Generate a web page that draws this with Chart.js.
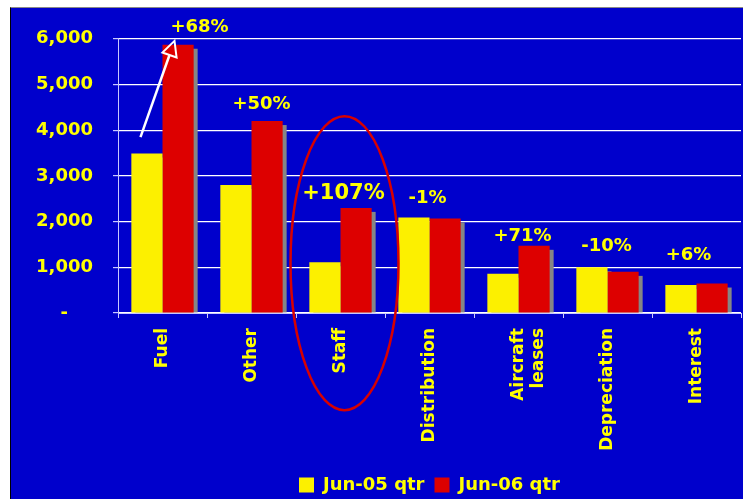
<!DOCTYPE html>
<html>
<head>
<meta charset="utf-8">
<title>Cost breakdown</title>
<script src="https://cdn.jsdelivr.net/npm/chart.js@4/dist/chart.umd.min.js"></script>
<style>
  html, body { margin: 0; padding: 0; background: #fff; overflow: hidden; }
  #panel { position: absolute; left: 10px; top: 7px; width: 732px; height: 496px;
           border-left: 1px solid #000; border-top: 1px solid #888; background: #0000cc; }
  canvas { display: block; }
</style>
</head>
<body>
<div id="panel"><canvas id="bar-chart" width="732" height="496"></canvas></div>
<script>
  // quarterly cost lines, $m
  const categories = ['Fuel', 'Other', 'Staff', 'Distribution', ['Aircraft', 'leases'], 'Depreciation', 'Interest'];
  const jun05 = [3490, 2800, 1110, 2090, 860, 1000, 610];
  const jun06 = [5870, 4200, 2300, 2070, 1470, 900, 645];
  const changes = ['+68%', '+50%', '+107%', '-1%', '+71%', '-10%', '+6%'];
  const tickLabels = ['-    ', '1,000', '2,000', '3,000', '4,000', '5,000', '6,000'];

  const yellow = '#ffff00';
  Chart.defaults.font.family = 'DejaVu Sans';
  Chart.defaults.font.weight = 'bold';

  // grey drop shadow behind every bar
  const barShadow = {
    id: 'barShadow',
    beforeDatasetsDraw(chart, args, opts) {
      const ctx = chart.ctx;
      ctx.save();
      ctx.fillStyle = opts.color;
      chart.data.datasets.forEach((ds, i) => {
        chart.getDatasetMeta(i).data.forEach(bar => {
          const p = bar.getProps(['x', 'y', 'base', 'width'], true);
          ctx.fillRect(p.x - p.width / 2 + opts.dx, p.y + opts.dy, p.width, p.base - p.y - opts.dy);
        });
      });
      ctx.restore();
    }
  };

  // % change written above each pair of bars
  const changeLabels = {
    id: 'changeLabels',
    afterDatasetsDraw(chart, args, opts) {
      const { ctx, scales: { x, y } } = chart;
      ctx.save();
      ctx.fillStyle = yellow;
      ctx.textAlign = 'center';
      ctx.textBaseline = 'middle';
      changes.forEach((txt, i) => {
        const top = y.getPixelForValue(Math.max(jun05[i], jun06[i]));
        const [dx, dy] = opts.nudge[i];
        const size = i === opts.bigIndex ? 21 : 18;
        ctx.font = 'bold ' + size + 'px "DejaVu Sans"';
        ctx.fillText(txt, x.getPixelForValue(i) + dx, top + dy);
      });
      ctx.restore();
    }
  };

  // white arrow on fuel, red ring around staff
  const callouts = {
    id: 'callouts',
    afterDraw(chart, args, opts) {
      const { ctx, scales: { x, y } } = chart;
      ctx.save();

      const a = opts.arrow;
      const x0 = x.getPixelForValue(a.index) + a.fromDx, y0 = y.getPixelForValue(a.fromValue);
      const x1 = x.getPixelForValue(a.index) + a.toDx, y1 = y.getPixelForValue(a.toValue);
      const ang = Math.atan2(y1 - y0, x1 - x0);
      const cos = Math.cos(ang), sin = Math.sin(ang);
      const bx = x1 - cos * 15, by = y1 - sin * 15;
      ctx.strokeStyle = '#fff';
      ctx.lineWidth = 2.5;
      ctx.beginPath();
      ctx.moveTo(x0, y0);
      ctx.lineTo(bx, by);
      ctx.stroke();
      ctx.lineWidth = 2;
      ctx.beginPath();
      ctx.moveTo(x1, y1);
      ctx.lineTo(bx + sin * 7.5, by - cos * 7.5);
      ctx.lineTo(bx - sin * 7.5, by + cos * 7.5);
      ctx.closePath();
      ctx.stroke();

      const e = opts.ring;
      ctx.strokeStyle = '#d80000';
      ctx.lineWidth = 2.5;
      ctx.beginPath();
      ctx.ellipse(x.getPixelForValue(e.index) + e.dx, y.getPixelForValue(e.value), e.rx, e.ry, 0, 0, Math.PI * 2);
      ctx.stroke();
      ctx.restore();
    }
  };

  new Chart(document.getElementById('bar-chart'), {
    type: 'bar',
    data: {
      labels: categories,
      datasets: [
        { label: 'Jun-05 qtr', data: jun05, backgroundColor: '#fcf000', borderWidth: 0 },
        { label: 'Jun-06 qtr', data: jun06, backgroundColor: '#dd0000', borderWidth: 0 }
      ]
    },
    options: {
      responsive: false,
      animation: false,
      categoryPercentage: 0.7,
      barPercentage: 1,
      layout: { padding: { top: 29, right: 2, left: 0, bottom: 0 } },
      plugins: {
        legend: {
          position: 'bottom',
          fullSize: false,
          labels: { boxWidth: 15, boxHeight: 15, padding: 10, color: yellow, font: { size: 18, weight: 'bold' } }
        },
        tooltip: { enabled: false },
        barShadow: { color: '#858585', dx: 4, dy: 4 },
        changeLabels: {
          bigIndex: 2,
          nudge: [[37, -17], [10, -17], [3, -14], [-2, -19], [4, -9], [-1, -21], [-8, -28]]
        },
        callouts: {
          arrow: { index: 0, fromDx: -22, fromValue: 3850, toDx: 12, toValue: 5955 },
          ring: { index: 2, dx: 4, value: 1090, rx: 54, ry: 147 }
        }
      },
      scales: {
        x: {
          grid: { drawOnChartArea: false, tickLength: 5, color: '#c8c8ff' },
          border: { color: '#c8c8ff' },
          ticks: { color: yellow, font: { size: 17, weight: 'bold' }, maxRotation: 90, minRotation: 90, autoSkip: false, padding: 10 },
          afterFit(s) { s.height = 153; }
        },
        y: {
          min: 0,
          max: 6000,
          ticks: {
            stepSize: 1000,
            padding: 20,
            color: yellow,
            font: { size: 18, weight: 'bold' },
            callback: v => tickLabels[v / 1000]
          },
          grid: { color: '#ffffff', tickColor: '#c8c8ff', tickLength: 5, lineWidth: 1.2 },
          border: { color: '#c8c8ff' },
          afterFit(s) { s.width = 107; }
        }
      }
    },
    plugins: [barShadow, changeLabels, callouts]
  });
</script>
</body>
</html>
